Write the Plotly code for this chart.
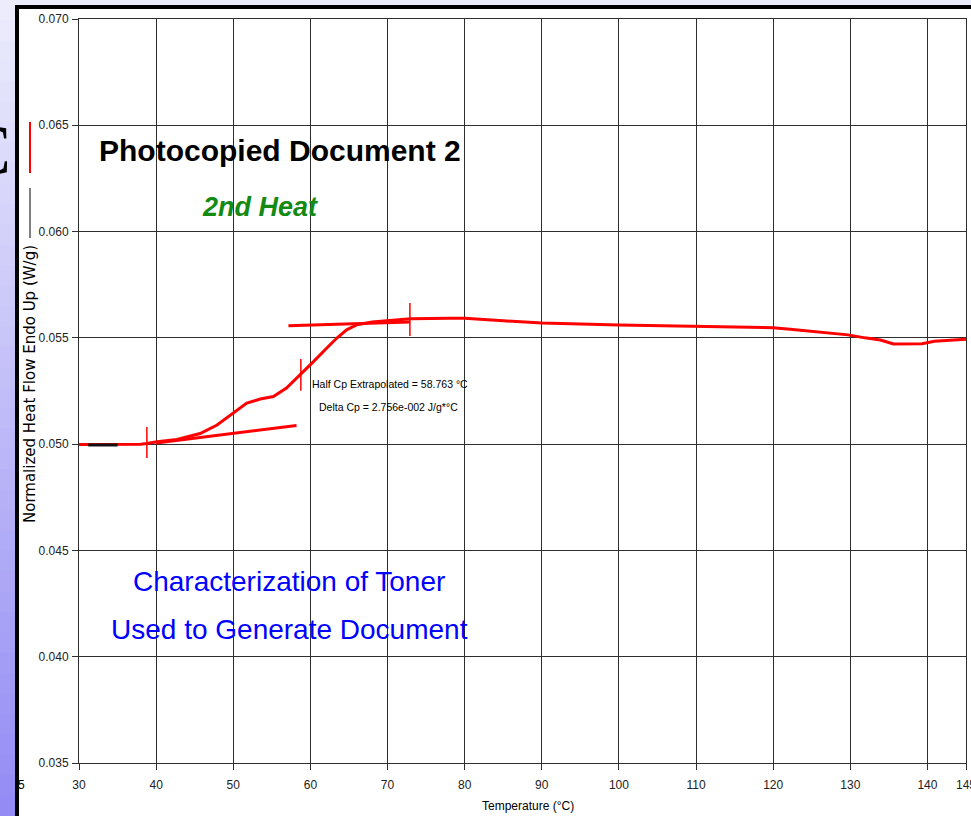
import plotly.graph_objects as go

# ---- DSC trace: second heat of toner from photocopied document 2 ----
temp_c = [30.0, 32.0, 34.0, 36.0, 38.0, 38.8, 40.1, 42.7, 45.7, 47.9, 50.0, 51.75,
          53.5, 55.2, 56.9, 58.66, 60.4, 62.1, 63.4, 64.7, 66.0, 68.0, 70.0, 73.0,
          78.0, 80.0, 85.0, 90.0, 100.0, 110.0, 120.0, 122.2, 124.6, 127.7, 129.7,
          131.9, 133.9, 135.6, 137.8, 139.3, 140.9, 143.6, 145.0]
heat_flow = [0.04998, 0.04998, 0.04998, 0.04999, 0.05000, 0.05003, 0.05011, 0.05022,
             0.05050, 0.05090, 0.05145, 0.05193, 0.05212, 0.05224, 0.05264, 0.05325,
             0.05388, 0.05451, 0.05498, 0.05538, 0.05561, 0.05575, 0.05582, 0.05590,
             0.05592, 0.05592, 0.05580, 0.05570, 0.05560, 0.05553, 0.05548, 0.05540,
             0.05532, 0.05524, 0.05514, 0.05500, 0.05490, 0.05471, 0.05470, 0.05472,
             0.05484, 0.05490, 0.05494]

# short black reference baseline at the start of the run
ref_temp = [31.2, 35.0]
ref_flow = [0.04996, 0.04996]

# extrapolated baselines used for the glass transition analysis
lower_tan_temp = [40.0, 58.2]
lower_tan_flow = [0.05005, 0.05088]
upper_tan_temp = [57.15, 72.9]
upper_tan_flow = [0.05557, 0.05575]

# analysis cursors: onset, half Cp (58.763 °C), end
cursor_temp = [38.8, 58.763, 72.9]
cursor_low = [0.04935, 0.05251, 0.05509]
cursor_high = [0.05081, 0.05401, 0.05664]

x_ticks = [30, 40, 50, 60, 70, 80, 90, 100, 110, 120, 130, 140, 145]
y_ticks = [0.035, 0.040, 0.045, 0.050, 0.055, 0.060, 0.065, 0.070]

half_cp = 58.763
delta_cp = "2.756e-002"

W, H = 971, 816
L, R, T, B = 79, 5, 19, 53
PW, PH = W - L - R, H - T - B


def px(x):
    return (x - L) / PW


def py(y):
    return (H - B - y) / PH


SANS = "Liberation Sans, Arial, sans-serif"
RED = "#ff0000"

fig = go.Figure()

fig.add_trace(go.Scatter(x=temp_c, y=heat_flow, mode="lines",
                         line=dict(color=RED, width=3), hoverinfo="skip"))
fig.add_trace(go.Scatter(x=ref_temp, y=ref_flow, mode="lines",
                         line=dict(color="#111111", width=3), hoverinfo="skip"))
fig.add_trace(go.Scatter(x=lower_tan_temp, y=lower_tan_flow, mode="lines",
                         line=dict(color=RED, width=3), hoverinfo="skip"))
fig.add_trace(go.Scatter(x=upper_tan_temp, y=upper_tan_flow, mode="lines",
                         line=dict(color=RED, width=3), hoverinfo="skip"))
for t, lo, hi in zip(cursor_temp, cursor_low, cursor_high):
    fig.add_trace(go.Scatter(x=[t, t], y=[lo, hi], mode="lines",
                             line=dict(color=RED, width=1.5), hoverinfo="skip"))

shapes = []
# slide background strip on the left: lavender fading to violet-blue
n_bands = 40
top_rgb = (236, 236, 252)
bot_rgb = (148, 140, 244)
for i in range(n_bands):
    f = i / (n_bands - 1)
    c = tuple(int(round(a + (b - a) * f)) for a, b in zip(top_rgb, bot_rgb))
    y0 = H * i / n_bands
    y1 = H * (i + 1) / n_bands + 1
    shapes.append(dict(type="rect", xref="paper", yref="paper",
                       x0=px(0), x1=px(16), y0=py(y1), y1=py(y0),
                       fillcolor="rgb(%d,%d,%d)" % c, line=dict(width=0), layer="below"))
shapes.append(dict(type="rect", xref="paper", yref="paper",
                   x0=px(0), x1=px(W), y0=py(6), y1=py(0),
                   fillcolor="rgb(236,236,252)", line=dict(width=0), layer="below"))
# black window frame
shapes.append(dict(type="rect", xref="paper", yref="paper",
                   x0=px(15), x1=px(19), y0=py(H), y1=py(5),
                   fillcolor="black", line=dict(width=0)))
shapes.append(dict(type="rect", xref="paper", yref="paper",
                   x0=px(15), x1=px(W), y0=py(9), y1=py(5),
                   fillcolor="black", line=dict(width=0)))
# legend swatches beside the y title
shapes.append(dict(type="line", xref="paper", yref="paper",
                   x0=px(30), x1=px(30), y0=py(173), y1=py(122),
                   line=dict(color=RED, width=2)))
shapes.append(dict(type="line", xref="paper", yref="paper",
                   x0=px(30), x1=px(30), y0=py(238), y1=py(188),
                   line=dict(color="black", width=1)))

annotations = [
    dict(text="Photocopied Document 2", xref="paper", yref="paper",
         x=px(280), y=py(151), xanchor="center", yanchor="middle", showarrow=False,
         font=dict(family=SANS, size=30, color="black", weight="bold")),
    dict(text="<i>2nd Heat</i>", xref="paper", yref="paper",
         x=px(260), y=py(207), xanchor="center", yanchor="middle", showarrow=False,
         font=dict(family=SANS, size=27, color="#138a13", weight="bold")),
    dict(text="Characterization of Toner", xref="paper", yref="paper",
         x=px(289), y=py(581), xanchor="center", yanchor="middle", showarrow=False,
         font=dict(family=SANS, size=28, color="#0000ff")),
    dict(text="Used to Generate Document", xref="paper", yref="paper",
         x=px(289), y=py(629), xanchor="center", yanchor="middle", showarrow=False,
         font=dict(family=SANS, size=28, color="#0000ff")),
    dict(text="Half Cp Extrapolated = %.3f °C" % half_cp, xref="paper", yref="paper",
         x=px(390), y=py(384), xanchor="center", yanchor="middle", showarrow=False,
         font=dict(family=SANS, size=10.5, color="black")),
    dict(text="Delta Cp = %s J/g*°C" % delta_cp, xref="paper", yref="paper",
         x=px(388), y=py(407), xanchor="center", yanchor="middle", showarrow=False,
         font=dict(family=SANS, size=10.5, color="black")),
    dict(text="Normalized Heat Flow Endo Up (W/g)", xref="paper", yref="paper",
         x=px(30), y=py(384), xanchor="center", yanchor="middle", showarrow=False,
         textangle=-90, font=dict(family="DejaVu Sans, Arial, sans-serif", size=15,
                                  color="black")),
    dict(text="Temperature (°C)", xref="paper", yref="paper",
         x=px(528), y=py(806), xanchor="center", yanchor="middle", showarrow=False,
         font=dict(family=SANS, size=12, color="black")),
    dict(text="C", xref="paper", yref="paper",
         x=px(13), y=py(150), xanchor="right", yanchor="middle", showarrow=False,
         font=dict(family="Liberation Serif, Times New Roman, serif", size=72,
                   color="black")),
    dict(text="5", xref="paper", yref="paper",
         x=px(16), y=py(785), xanchor="left", yanchor="middle", showarrow=False,
         font=dict(family=SANS, size=12, color="black")),
]

axis_common = dict(showgrid=True, gridcolor="#2e2e2e", gridwidth=1,
                   showline=True, linecolor="#2e2e2e", linewidth=1, mirror=True,
                   ticks="outside", ticklen=6, tickcolor="#2e2e2e", zeroline=False,
                   ticklabeloverflow="allow", automargin=False,
                   tickfont=dict(family=SANS, size=12, color="#222222"))

fig.update_layout(
    width=W, height=H,
    margin=dict(l=L, r=R, t=T, b=B, pad=0, autoexpand=False),
    paper_bgcolor="white", plot_bgcolor="white",
    showlegend=False,
    xaxis=dict(range=[30, 145], tickvals=x_ticks, ticklabelstandoff=5,
               ticktext=[str(v) for v in x_ticks], **axis_common),
    yaxis=dict(range=[0.035, 0.070], tickvals=y_ticks, ticklabelstandoff=1,
               ticktext=["%.3f" % v for v in y_ticks], **axis_common),
    shapes=shapes,
    annotations=annotations,
)

fig.write_html("out.html")
